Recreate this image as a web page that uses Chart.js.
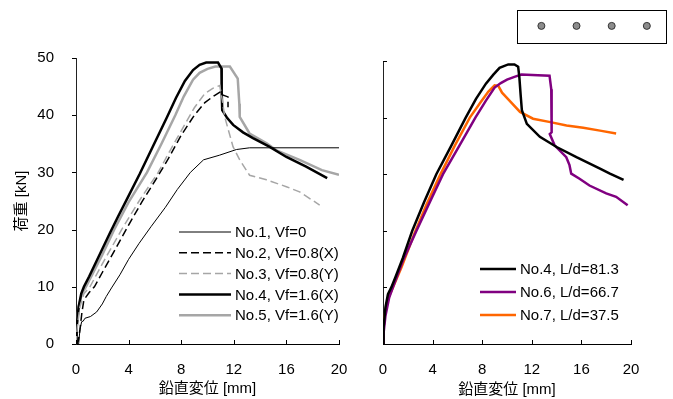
<!DOCTYPE html>
<html>
<head>
<meta charset="utf-8">
<script src="https://cdn.jsdelivr.net/npm/chart.js@4"></script>
<style>
  html, body { margin: 0; padding: 0; background: #fff; }
  #wrap { position: relative; width: 673px; height: 399px; }
  #left, #right { position: absolute; top: 0; }
  #left { left: 0; }
  #right { left: 360px; }
  #box { position: absolute; left: 517px; top: 10px; width: 150px; height: 34px;
         border: 1px solid #000; box-sizing: border-box; }
  #dots { position: absolute; left: 0; top: 0; }
</style>
</head>
<body>
<div id="wrap">
  <canvas id="left" width="360" height="399"></canvas>
  <canvas id="right" width="313" height="399"></canvas>
  <div id="box"><canvas id="dots" width="148" height="32"></canvas></div>
</div>
<script>
// Curvas carga x deslocamento vertical
const xTicksLabel = "鉛直変位 [mm]";
const yTicksLabel = "荷重 [kN]";

const no1X = [0.2, 0.3, 0.43, 0.55, 0.68, 1.1, 1.57, 2, 2.3, 2.7, 3.34, 4, 4.8, 5.7, 6.8, 7.7, 8.7, 9.7, 10.9, 12.2, 13.2, 20];
const no1Y = [0, 2.5, 3.9, 4.0, 4.5, 4.8, 5.6, 7.0, 8.3, 9.8, 12.1, 14.8, 17.6, 20.5, 23.9, 27, 30, 32.2, 33.0, 34.0, 34.3, 34.3];

const no2X = [0, 0.17, 0.3, 0.45, 0.6, 1.0, 1.4, 2, 3, 4, 5, 6, 7, 8, 9, 9.8, 10.5, 11.06, 11.1, 11.56, 11.56];
const no2Y = [0, 0.5, 2.5, 5.5, 7.7, 9, 10, 12.5, 16.6, 20.8, 24.8, 28.5, 32.3, 36.5, 40, 42.2, 43.4, 44.2, 43.6, 43.2, 41.4];

const no3X = [0, 0.1, 0.3, 0.6, 1.06, 2, 3.47, 4.8, 6.25, 7.2, 8.3, 9, 9.8, 10.4, 10.93, 11.1, 11.31, 11.94, 12.45, 13.2, 14.48, 16, 17, 18.53];
const no3Y = [0, 3, 6.5, 8.8, 10, 14, 20, 25, 30, 34, 38.5, 41.3, 43.8, 44.7, 45.2, 43, 39.7, 34.5, 32.2, 29.5, 28.7, 27.5, 26.6, 24.3];

const no4LX = [0, 0.05, 0.2, 0.4, 0.6, 1.0, 1.5, 2, 2.58, 3.2, 4, 4.86, 5.9, 6.89, 7.6, 8.28, 8.9, 9.4, 9.9, 10.8, 11.06, 11.08, 11.12, 11.5, 11.95, 12.7, 13.46, 14.7, 16, 17.5, 19.1];
const no4LY = [0, 3, 6.5, 8.8, 10, 11.8, 14.2, 16.6, 19.4, 22.3, 25.9, 29.8, 34.8, 39.5, 43.0, 46.0, 47.9, 48.8, 49.2, 49.2, 48.2, 44, 40.9, 39.5, 38.3, 37, 36, 34.5, 32.7, 31, 29];

const no5X = [0, 0.05, 0.2, 0.45, 0.75, 1.2, 2, 2.9, 4, 5.4, 6.5, 7.55, 8.2, 8.9, 9.4, 10, 10.6, 11.7, 12.3, 12.42, 12.45, 13.2, 14.5, 15.2, 17, 18.7, 20];
const no5Y = [0, 3, 6.5, 8.8, 10, 12, 15.6, 20, 24.8, 30, 35, 40, 43.3, 46.2, 47.4, 48.1, 48.5, 48.5, 46.4, 42, 39.7, 36.8, 35.1, 33.9, 32.2, 30.4, 29.6];

const no4RX = [0, 0.05, 0.2, 0.4, 0.67, 1, 1.6, 2.36, 3.3, 4.3, 5.5, 6.67, 7.5, 8.3, 8.9, 9.4, 10.1, 10.6, 10.9, 11.0, 11.1, 11.2, 11.6, 12.65, 14, 15.6, 17.5, 18.3, 19.4];
const no4RY = [0, 3, 6.5, 8.8, 10, 11.8, 15.2, 20, 25, 30, 35, 40, 43.3, 46, 47.6, 48.8, 49.4, 49.4, 49.0, 47, 44, 41.3, 38.9, 36.6, 34.8, 33.0, 31.0, 30.1, 29.0];

const no6X = [0, 0.05, 0.2, 0.5, 0.8, 1.6, 2.7, 3.8, 4.84, 6.15, 7.45, 8.3, 9.0, 9.5, 10, 10.6, 11.16, 12.5, 13.43, 13.57, 13.6, 13.45, 13.84, 14.78, 15.04, 15.18, 15.85, 16.65, 18.0, 18.8, 19.73];
const no6Y = [0, 2, 5, 8.2, 10, 14.7, 20, 25.2, 30, 35, 40, 43, 45.3, 46.1, 46.7, 47.2, 47.6, 47.5, 47.4, 45, 37.4, 37.1, 35.1, 33.0, 31.6, 30.1, 29.2, 28.0, 26.6, 26.0, 24.5];

const no7X = [0, 0.05, 0.2, 0.5, 0.8, 1.5, 2.55, 3.5, 4.57, 5.8, 7.0, 7.9, 8.5, 9.0, 9.3, 9.6, 10.2, 11.05, 12.1, 13.5, 14.8, 16.15, 17.5, 18.8];
const no7Y = [0, 3, 6, 8.5, 10, 13.6, 19.6, 24.6, 29.7, 35.1, 40, 42.8, 44.6, 45.7, 45.6, 44.4, 43.0, 41.0, 39.8, 39.2, 38.6, 38.2, 37.7, 37.2];

const leftLabels = ["No.1, Vf=0", "No.2, Vf=0.8(X)", "No.3, Vf=0.8(Y)", "No.4, Vf=1.6(X)", "No.5, Vf=1.6(Y)"];
const rightLabels = ["No.4, L/d=81.3", "No.6, L/d=66.7", "No.7, L/d=37.5"];
const markerX = [1, 2, 3, 4];

const FONT = "'Liberation Sans', 'Noto Sans CJK JP', Arial, sans-serif";

function pts(xs, ys) { return xs.map((x, i) => ({ x, y: ys[i] })); }

// marcas de escala curtas (para dentro/fora) e legenda desenhada dentro do grafico
const extras = {
  id: "extras",
  afterDraw(chart, args, o) {
    const ctx = chart.ctx;
    const xs = chart.scales.x, ys = chart.scales.y;
    ctx.save();
    ctx.strokeStyle = "#000";
    ctx.lineWidth = 1;
    ctx.setLineDash([]);
    xs.ticks.forEach(t => {
      const px = Math.round(xs.getPixelForValue(t.value)) + 0.5;
      ctx.beginPath();
      ctx.moveTo(px, xs.top);
      ctx.lineTo(px, xs.top - o.tick);
      ctx.stroke();
    });
    ys.ticks.forEach(t => {
      const py = Math.round(ys.getPixelForValue(t.value)) + 0.5;
      const dir = o.yIn ? 1 : -1;
      ctx.beginPath();
      ctx.moveTo(ys.right, py);
      ctx.lineTo(ys.right + dir * o.tick, py);
      ctx.stroke();
    });
    // legenda
    ctx.font = "15px " + FONT;
    ctx.textBaseline = "middle";
    ctx.fillStyle = "#000";
    chart.data.datasets.forEach((ds, i) => {
      const y = o.ly + i * o.dy;
      ctx.beginPath();
      ctx.setLineDash(ds.borderDash || []);
      ctx.strokeStyle = ds.borderColor;
      ctx.lineWidth = ds.borderWidth;
      ctx.moveTo(o.lx, y);
      ctx.lineTo(o.lx + o.len, y);
      ctx.stroke();
      ctx.setLineDash([]);
      ctx.fillText(ds.label, o.lx + o.len + 4, y + 1);
    });
    ctx.restore();
  }
};

function makeChart(id, datasets, cfg) {
  return new Chart(document.getElementById(id), {
    type: "line",
    data: { datasets },
    options: {
      responsive: false,
      animation: false,
      events: [],
      layout: { padding: cfg.padding },
      elements: { point: { radius: 0 }, line: { tension: 0 } },
      scales: {
        x: {
          type: "linear", min: 0, max: 20,
          ticks: { stepSize: 4, padding: 9, color: "#000", font: { family: FONT, size: 15 } },
          grid: { display: false },
          border: { display: true, color: "#000", width: 1 },
          title: { display: true, text: xTicksLabel, color: "#000",
                   font: { family: FONT, size: 15 }, padding: { top: 0, bottom: cfg.xTitlePad } },
          afterFit: s => { s.height = 55; }
        },
        y: {
          type: "linear", min: 0, max: 50,
          ticks: { stepSize: 10, padding: 14, display: cfg.yLabels, color: "#000",
                   font: { family: FONT, size: 15 } },
          grid: { display: false },
          border: { display: true, color: "#222", width: 1 },
          title: { display: cfg.yLabels, text: yTicksLabel, color: "#000",
                   font: { family: FONT, size: 15 }, padding: { top: 13, bottom: 0 } },
          afterFit: s => { s.width = cfg.yWidth; }
        }
      },
      plugins: {
        legend: { display: false },
        tooltip: { enabled: false },
        extras: cfg.extras
      }
    },
    plugins: [extras]
  });
}

makeChart("left", [
  { label: leftLabels[0], data: pts(no1X, no1Y), borderColor: "#000", borderWidth: 1 },
  { label: leftLabels[1], data: pts(no2X, no2Y), borderColor: "#000", borderWidth: 1.5, borderDash: [8, 4] },
  { label: leftLabels[2], data: pts(no3X, no3Y), borderColor: "#a6a6a6", borderWidth: 1.5, borderDash: [8, 4] },
  { label: leftLabels[3], data: pts(no4LX, no4LY), borderColor: "#000", borderWidth: 2.5 },
  { label: leftLabels[4], data: pts(no5X, no5Y), borderColor: "#a6a6a6", borderWidth: 2.5 }
], {
  padding: { top: 58, right: 21, bottom: 0, left: 0 },
  yWidth: 76, yLabels: true, xTitlePad: 1,
  extras: { tick: 4, yIn: false, lx: 179, ly: 232, dy: 20.8, len: 52 }
});

makeChart("right", [
  { label: rightLabels[0], data: pts(no4RX, no4RY), borderColor: "#000", borderWidth: 2.5 },
  { label: rightLabels[1], data: pts(no6X, no6Y), borderColor: "#800080", borderWidth: 2.5 },
  { label: rightLabels[2], data: pts(no7X, no7Y), borderColor: "#ff6600", borderWidth: 2.5 }
], {
  padding: { top: 61, right: 42, bottom: 0, left: 0 },
  yWidth: 23, yLabels: false, xTitlePad: 0,
  extras: { tick: 4, yIn: true, lx: 480 - 360, ly: 269, dy: 23, len: 36 }
});

// caixa no canto superior direito com quatro circulos
new Chart(document.getElementById("dots"), {
  type: "scatter",
  data: { datasets: [{ data: markerX.map(x => ({ x, y: 0 })), pointRadius: 3.5,
    backgroundColor: "#8c8c8c", borderColor: "#333", borderWidth: 1 }] },
  options: {
    responsive: false, animation: false, events: [],
    layout: { padding: 0 },
    scales: {
      x: { display: false, min: 0.477, max: 4.403 },
      y: { display: false, min: -1.1, max: 0.9 }
    },
    plugins: { legend: { display: false }, tooltip: { enabled: false } }
  }
});
</script>
</body>
</html>
